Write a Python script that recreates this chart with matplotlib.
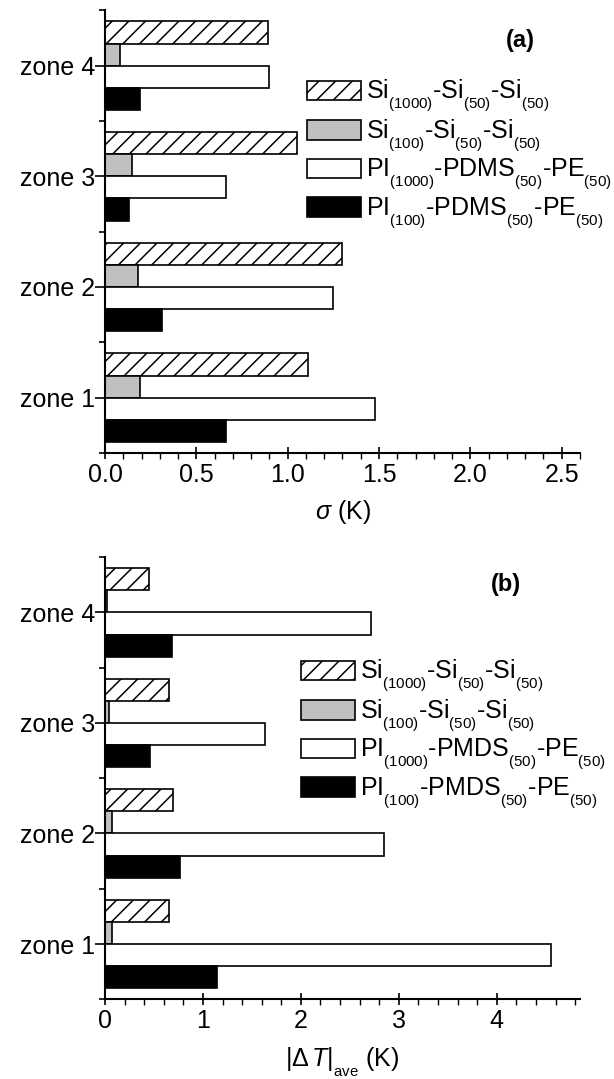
import matplotlib
matplotlib.use("Agg")
import matplotlib.pyplot as plt
import matplotlib._mathtext as mathtext_internal
from matplotlib.patches import Patch
from matplotlib.ticker import MultipleLocator, FixedLocator

plt.rcParams['font.family'] = ['Liberation Sans', 'DejaVu Sans']
plt.rcParams['mathtext.fontset'] = 'custom'
plt.rcParams['mathtext.rm'] = 'Liberation Sans'
plt.rcParams['mathtext.it'] = 'Liberation Sans:italic'
plt.rcParams['mathtext.bf'] = 'Liberation Sans:bold'
plt.rcParams['hatch.linewidth'] = 1.1


# subscripts in the original are smaller and sit lower than mathtext's default
class LowSubConstants(mathtext_internal.FontConstantsBase):
    sub1 = 0.75


mathtext_internal.SHRINK_FACTOR = 0.6
mathtext_internal._font_constant_mapping['Liberation Sans'] = LowSubConstants

zones = ['zone 1', 'zone 2', 'zone 3', 'zone 4']

# panel (a): sigma (K)
sigma_si1000 = [1.11, 1.30, 1.05, 0.89]
sigma_si100 = [0.19, 0.18, 0.15, 0.08]
sigma_pi1000 = [1.48, 1.25, 0.66, 0.90]
sigma_pi100 = [0.66, 0.31, 0.13, 0.19]

# panel (b): |dT|ave (K)
dt_si1000 = [0.65, 0.69, 0.65, 0.45]
dt_si100 = [0.07, 0.07, 0.04, 0.02]
dt_pi1000 = [4.55, 2.85, 1.63, 2.72]
dt_pi100 = [1.14, 0.77, 0.46, 0.68]

labels_a = [r'Si$_{(1000)}$-Si$_{(50)}$-Si$_{(50)}$',
            r'Si$_{(100)}$-Si$_{(50)}$-Si$_{(50)}$',
            r'PI$_{(1000)}$-PDMS$_{(50)}$-PE$_{(50)}$',
            r'PI$_{(100)}$-PDMS$_{(50)}$-PE$_{(50)}$']
labels_b = [r'Si$_{(1000)}$-Si$_{(50)}$-Si$_{(50)}$',
            r'Si$_{(100)}$-Si$_{(50)}$-Si$_{(50)}$',
            r'PI$_{(1000)}$-PMDS$_{(50)}$-PE$_{(50)}$',
            r'PI$_{(100)}$-PMDS$_{(50)}$-PE$_{(50)}$']

styles = [dict(facecolor='white', hatch='//'),
          dict(facecolor='#c0c0c0'),
          dict(facecolor='white'),
          dict(facecolor='black')]
offsets = [0.3, 0.1, -0.1, -0.3]
FS = 18


def draw_panel(ax, series, labels, xmax, major, minor, xlabel, xpad, tag, leg_anchor, tag_pos):
    pos = range(1, len(zones) + 1)
    for vals, st, off in zip(series, styles, offsets):
        ax.barh([p + off for p in pos], vals, height=0.2, edgecolor='black',
                linewidth=1.2, **st)
    ax.set_ylim(0.5, 4.5)
    ax.set_xlim(0, xmax)
    ax.set_yticks(list(pos))
    ax.set_yticklabels(zones, fontsize=FS)
    ax.yaxis.set_minor_locator(FixedLocator([0.5, 1.5, 2.5, 3.5, 4.5]))
    ax.xaxis.set_major_locator(MultipleLocator(major))
    ax.xaxis.set_minor_locator(MultipleLocator(minor))
    ax.tick_params(axis='y', which='major', direction='out', length=7, width=1.2, pad=0)
    ax.tick_params(axis='y', which='minor', direction='out', length=4, width=1.2)
    ax.tick_params(axis='x', which='major', direction='inout', length=8, width=1.2,
                   labelsize=FS, pad=3)
    ax.tick_params(axis='x', which='minor', direction='out', length=4, width=1.0)
    for s in ['top', 'right']:
        ax.spines[s].set_visible(False)
    for s in ['left', 'bottom']:
        ax.spines[s].set_linewidth(1.5)
    ax.set_xlabel(xlabel, fontsize=FS, labelpad=xpad)
    ax.text(tag_pos[0], tag_pos[1], tag, transform=ax.figure.transFigure,
            fontsize=17, fontweight='bold', ha='center', va='center')
    handles = [Patch(edgecolor='black', linewidth=1.2, **st) for st in styles]
    ax.legend(handles, labels, loc='upper left', bbox_to_anchor=leg_anchor,
              bbox_transform=ax.figure.transFigure, frameon=False, fontsize=FS,
              handlelength=2.15, handleheight=0.82, handletextpad=0.2,
              labelspacing=0.12, borderpad=0, borderaxespad=0)


fig = plt.figure(figsize=(6.14, 10.79), dpi=100)
ax_a = fig.add_axes([0.171, 0.5802, 0.7736, 0.4102])
ax_b = fig.add_axes([0.171, 0.0739, 0.7736, 0.4097])

draw_panel(ax_a, [sigma_si1000, sigma_si100, sigma_pi1000, sigma_pi100], labels_a,
           2.6, 0.5, 0.1, r'$\sigma$ (K)', 8, '(a)',
           (307 / 614, 1 - 78 / 1079), (520 / 614, 1 - 41 / 1079))
draw_panel(ax_b, [dt_si1000, dt_si100, dt_pi1000, dt_pi100], labels_b,
           4.85, 1, 0.2, r'$|\Delta\,T|_{\mathrm{ave}}$ (K)', 9, '(b)',
           (301 / 614, 1 - 658 / 1079), (506 / 614, 1 - 585 / 1079))

fig.savefig('out.png', dpi=100)
